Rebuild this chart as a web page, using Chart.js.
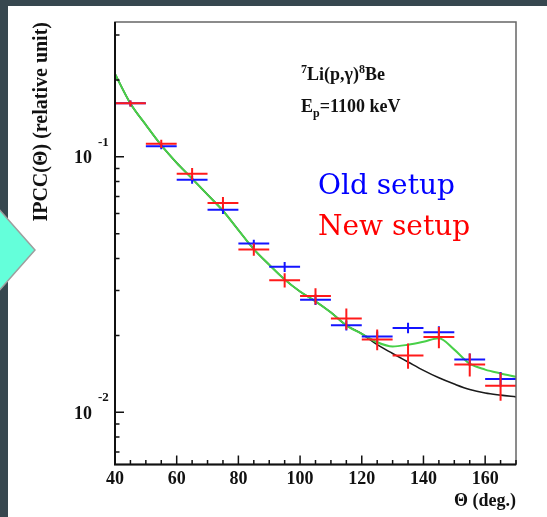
<!DOCTYPE html>
<html>
<head>
<meta charset="utf-8">
<script src="https://cdn.jsdelivr.net/npm/chart.js@4.4.0/dist/chart.umd.min.js"></script>
<style>
  html, body { margin: 0; padding: 0; background: #fff; }
  body { width: 547px; height: 517px; position: relative; overflow: hidden; }
  .edge-left { position: absolute; left: 0; top: 0; width: 8px; height: 517px; background: #37474f; }
  .edge-top { position: absolute; left: 0; top: 0; width: 547px; height: 6px; background: #37474f; }
  #ipcc { position: absolute; left: 0; top: 0; }
  .marker { position: absolute; left: 0; top: 200px; }
</style>
</head>
<body>
<div class="edge-left"></div>
<div class="edge-top"></div>
<canvas id="ipcc" width="547" height="517"></canvas>
<svg class="marker" width="40" height="100"><polygon points="-2,8 35,50 -2,92" fill="#64ffda" stroke="#9e9e9e" stroke-width="1.5"/></svg>
<script>
// angular distribution of the 7Li(p,g)8Be gamma pairs, Ep = 1100 keV
const fitAngles = [40, 45, 50, 55, 60, 65, 70, 75, 80, 85, 90, 95, 100, 105, 110, 115, 120, 125, 130, 135, 140, 145, 150, 155, 160, 165, 170];
const fitWithX17 = [0.211, 0.1617, 0.1334, 0.1110, 0.0947, 0.0822, 0.0711, 0.0615, 0.0517, 0.0435, 0.0378, 0.0331, 0.0297, 0.0272, 0.0246, 0.0219, 0.0203, 0.0188, 0.0181, 0.0184, 0.0189, 0.0195, 0.0176, 0.0155, 0.0147, 0.0142, 0.01377];
const fitNoX17 = [0.211, 0.1617, 0.1334, 0.1110, 0.0947, 0.0822, 0.0711, 0.0615, 0.0517, 0.0435, 0.0378, 0.0331, 0.0297, 0.0272, 0.0246, 0.0219, 0.0203, 0.0184, 0.0170, 0.01575, 0.0146, 0.01365, 0.0129, 0.01228, 0.0119, 0.01168, 0.0115];

const binCenters = [45, 55, 65, 75, 85, 95, 105, 115, 125, 135, 145, 155, 165];
const binHalfWidth = 5;
const oldSetup = [0.1619, 0.1101, 0.0813, 0.0620, 0.0458, 0.0371, 0.0276, 0.0219, 0.0198, 0.0214, 0.0206, 0.0161, 0.0135];
const oldSetupErr = [0.0044, 0.0030, 0.0029, 0.0022, 0.0016, 0.0017, 0.0013, 0.0010, 0.0009, 0.0010, 0.0011, 0.0009, 0.0009];
const newSetup = [0.1619, 0.1124, 0.0858, 0.0660, 0.0434, 0.0329, 0.0285, 0.0233, 0.0193, 0.0167, 0.0197, 0.0154, 0.0127];
const newSetupErr = [0.0044, 0.0041, 0.0047, 0.0036, 0.0024, 0.0021, 0.0021, 0.0022, 0.0018, 0.0019, 0.0019, 0.0016, 0.0016];

const xTicks = [40, 60, 80, 100, 120, 140, 160];
const xTickLabels = ['40', '60', '80', '100', '120', '140', '160'];
const yDecades = [0.1, 0.01];
const yDecadeExps = ['-1', '-2'];

const SERIF = '"Liberation Serif", "Times New Roman", serif';

const toPoints = (xs, ys) => xs.map((x, i) => ({ x, y: ys[i] }));

// text with sub/superscripts: [text, size, dy]
function drawRuns(ctx, x, y, runs, color) {
  ctx.fillStyle = color || '#111';
  ctx.textAlign = 'left';
  ctx.textBaseline = 'alphabetic';
  runs.forEach(([text, size, dy]) => {
    ctx.font = `bold ${size}px ${SERIF}`;
    ctx.fillText(text, x, y + dy);
    x += ctx.measureText(text).width;
  });
}

const errorBars = {
  id: 'errorBars',
  afterDatasetsDraw(chart) {
    const { ctx, scales: { x, y } } = chart;
    chart.data.datasets.forEach((ds) => {
      if (!ds.yErr) return;
      ctx.save();
      ctx.strokeStyle = ds.borderColor;
      ctx.lineWidth = 2;
      ds.data.forEach((p, i) => {
        const px = x.getPixelForValue(p.x);
        const py = y.getPixelForValue(p.y);
        ctx.beginPath();
        ctx.moveTo(x.getPixelForValue(p.x - binHalfWidth), py);
        ctx.lineTo(x.getPixelForValue(p.x + binHalfWidth), py);
        ctx.moveTo(px, y.getPixelForValue(p.y - ds.yErr[i]));
        ctx.lineTo(px, y.getPixelForValue(p.y + ds.yErr[i]));
        ctx.stroke();
      });
      ctx.restore();
    });
  }
};

// ROOT style frame: inward ticks, 10^n labels, titles and text boxes
const rootFrame = {
  id: 'rootFrame',
  afterDraw(chart) {
    const { ctx, chartArea: { left, right, top, bottom }, scales: { x, y } } = chart;
    ctx.save();

    ctx.strokeStyle = '#666';
    ctx.lineWidth = 1.5;
    ctx.strokeRect(left, top, right - left, bottom - top);
    ctx.strokeStyle = '#111';
    ctx.lineWidth = 2;
    ctx.beginPath();
    ctx.moveTo(left, top);
    ctx.lineTo(left, bottom);
    ctx.lineTo(right, bottom);
    ctx.stroke();

    ctx.lineWidth = 1.5;
    ctx.beginPath();
    for (let v = x.min; v <= x.max; v += 5) {
      const px = x.getPixelForValue(v);
      const len = xTicks.includes(v) ? 9 : 4.5;
      ctx.moveTo(px, bottom);
      ctx.lineTo(px, bottom - len);
    }
    for (let d = 0.001; d < 1; d *= 10) {
      for (let m = 1; m <= 9; m++) {
        const v = m * d;
        if (v < y.min || v > y.max) continue;
        const py = y.getPixelForValue(v);
        ctx.moveTo(left, py);
        ctx.lineTo(left + (m === 1 ? 9 : 4.5), py);
      }
    }
    ctx.stroke();

    ctx.fillStyle = '#111';
    ctx.font = `bold 18px ${SERIF}`;
    ctx.textAlign = 'center';
    ctx.textBaseline = 'alphabetic';
    xTicks.forEach((v, i) => ctx.fillText(xTickLabels[i], x.getPixelForValue(v), bottom + 19));

    yDecades.forEach((v, i) => {
      const py = y.getPixelForValue(v);
      ctx.font = `bold 18px ${SERIF}`;
      ctx.textAlign = 'right';
      ctx.fillText('10', left - 23, py + 6.5);
      ctx.font = `bold 13px ${SERIF}`;
      ctx.textAlign = 'left';
      ctx.fillText(yDecadeExps[i], left - 17, py - 11);
    });

    ctx.font = `bold 18px ${SERIF}`;
    ctx.textAlign = 'right';
    ctx.fillText('\u0398 (deg.)', right, 506);

    ctx.save();
    ctx.translate(47, top);
    ctx.rotate(-Math.PI / 2);
    ctx.font = `bold 20px ${SERIF}`;
    ctx.textAlign = 'right';
    ctx.fillText('IPCC(\u0398) (relative unit)', 0, 0);
    ctx.restore();

    drawRuns(ctx, 301, 79.5, [['7', 12, -7], ['Li(p,\u03b3)', 18, 0], ['8', 12, -7], ['Be', 18, 0]]);
    drawRuns(ctx, 301, 111.5, [['E', 18, 0], ['p', 12, 5], ['=1100 keV', 18, 0]]);

    ctx.font = '28px "DejaVu Serif", serif';
    ctx.textAlign = 'left';
    ctx.fillStyle = '#0000ff';
    ctx.fillText('Old setup', 318, 194);
    ctx.fillStyle = '#ff0000';
    ctx.fillText('New setup', 318, 235);

    ctx.restore();
  }
};

new Chart(document.getElementById('ipcc'), {
  type: 'scatter',
  data: {
    datasets: [
      {
        label: 'fit with anomaly',
        data: toPoints(fitAngles, fitWithX17),
        showLine: true,
        borderColor: '#48d048',
        borderWidth: 2,
        pointRadius: 0,
        cubicInterpolationMode: 'monotone'
      },
      {
        label: 'E1 + M1',
        data: toPoints(fitAngles, fitNoX17),
        showLine: true,
        borderColor: '#1a1a1a',
        borderWidth: 1.6,
        pointRadius: 0,
        cubicInterpolationMode: 'monotone'
      },
      {
        label: 'Old setup',
        data: toPoints(binCenters, oldSetup),
        yErr: oldSetupErr,
        borderColor: '#1414ff',
        pointRadius: 0
      },
      {
        label: 'New setup',
        data: toPoints(binCenters, newSetup),
        yErr: newSetupErr,
        borderColor: '#ff1a1a',
        pointRadius: 0
      }
    ]
  },
  options: {
    responsive: false,
    animation: false,
    devicePixelRatio: 1,
    layout: { padding: { left: 115, top: 22, right: 31, bottom: 52.5 } },
    scales: {
      x: { type: 'linear', min: 40, max: 170, display: false },
      y: { type: 'logarithmic', min: 0.00625, max: 0.337, display: false }
    },
    plugins: {
      legend: { display: false },
      tooltip: { enabled: false }
    }
  },
  plugins: [errorBars, rootFrame]
});
</script>
</body>
</html>
